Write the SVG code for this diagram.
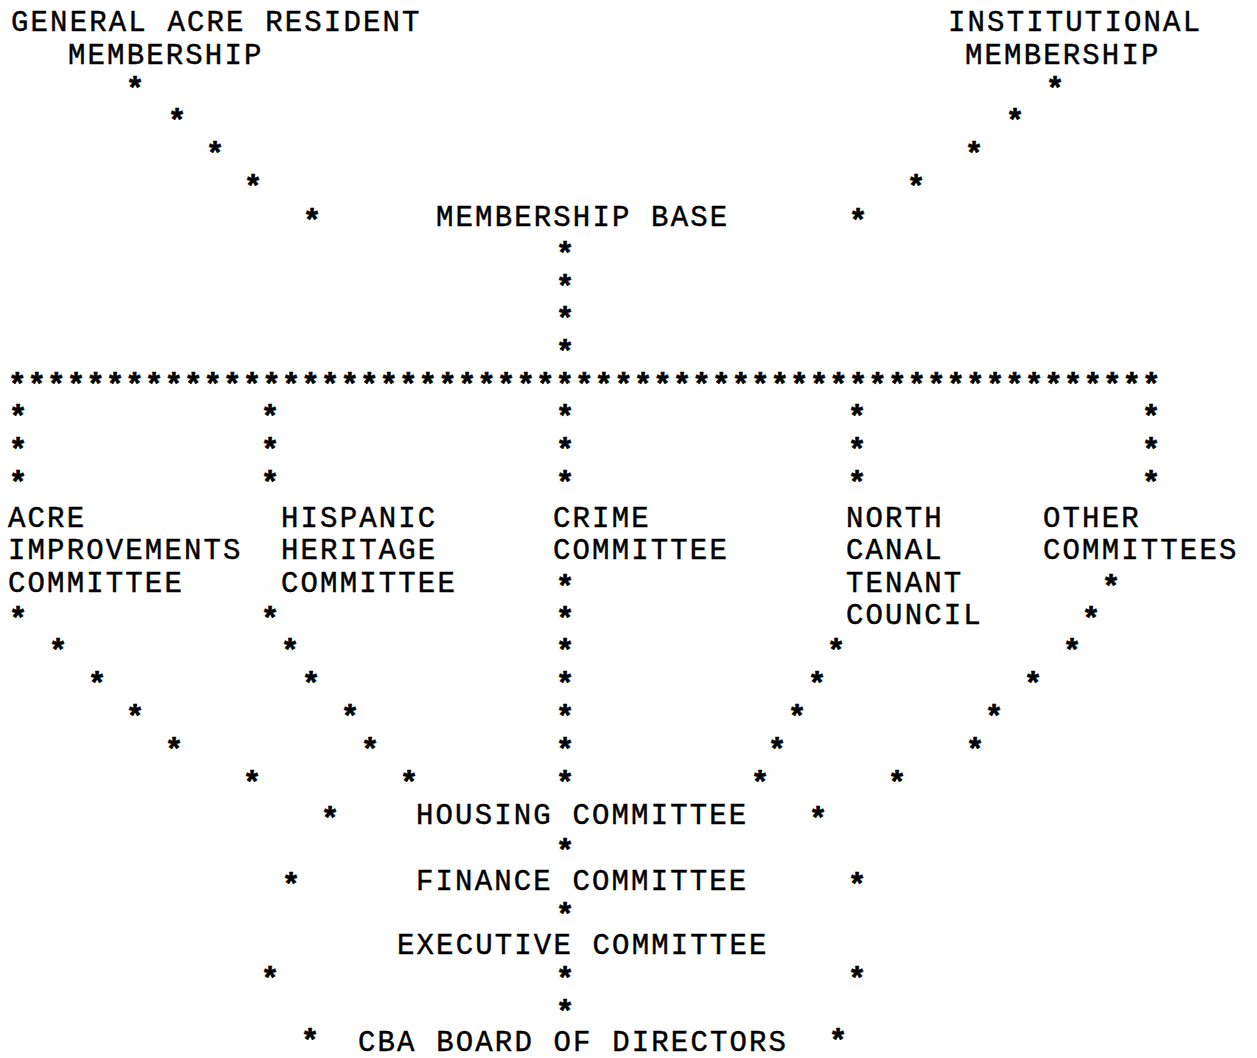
<svg xmlns="http://www.w3.org/2000/svg" width="1257" height="1058" viewBox="0 0 1257 1058">
<style>
text{font-family:"Liberation Mono","DejaVu Sans Mono",monospace;fill:#000}
.t{font-size:29px;letter-spacing:2.15px;stroke:#000;stroke-width:0.45px}
.a{font-size:31px;font-weight:bold;text-anchor:middle;stroke:#000;stroke-width:0.6px}
.row{font-size:31px;font-weight:bold;letter-spacing:0.95px;stroke:#000;stroke-width:0.6px}
</style>
<rect width="1257" height="1058" fill="#fff"/>
<g id="general-acre"><text class="t" x="11" y="31">GENERAL ACRE RESIDENT</text><text class="t" x="68" y="64">MEMBERSHIP</text></g>
<g id="institutional"><text class="t" x="948" y="31">INSTITUTIONAL</text><text class="t" x="965" y="64">MEMBERSHIP</text></g>
<g id="membership-base"><text class="t" x="436" y="226">MEMBERSHIP BASE</text></g>
<g id="acre-improvements"><text class="t" x="8" y="527">ACRE</text><text class="t" x="8" y="559">IMPROVEMENTS</text><text class="t" x="8" y="592">COMMITTEE</text></g>
<g id="hispanic-heritage"><text class="t" x="281" y="527">HISPANIC</text><text class="t" x="281" y="559">HERITAGE</text><text class="t" x="281" y="592">COMMITTEE</text></g>
<g id="crime"><text class="t" x="553" y="527">CRIME</text><text class="t" x="553" y="559">COMMITTEE</text></g>
<g id="north-canal"><text class="t" x="846" y="527">NORTH</text><text class="t" x="846" y="559">CANAL</text><text class="t" x="846" y="592">TENANT</text><text class="t" x="846" y="624">COUNCIL</text></g>
<g id="other"><text class="t" x="1043" y="527">OTHER</text><text class="t" x="1043" y="559">COMMITTEES</text></g>
<g id="housing"><text class="t" x="416" y="824">HOUSING COMMITTEE</text></g>
<g id="finance"><text class="t" x="416" y="890">FINANCE COMMITTEE</text></g>
<g id="executive"><text class="t" x="397" y="954">EXECUTIVE COMMITTEE</text></g>
<g id="cba-board"><text class="t" x="358" y="1051">CBA BOARD OF DIRECTORS</text></g>
<g id="connectors">
<text class="a" x="135" y="99">*</text><text class="a" x="177" y="131">*</text><text class="a" x="215" y="164">*</text><text class="a" x="253" y="197">*</text><text class="a" x="312" y="231">*</text>
<text class="a" x="1055" y="99">*</text><text class="a" x="1015" y="131">*</text><text class="a" x="974" y="164">*</text><text class="a" x="916" y="197">*</text><text class="a" x="858" y="231">*</text>
<text class="a" x="565" y="264">*</text><text class="a" x="565" y="297">*</text><text class="a" x="565" y="329">*</text><text class="a" x="565" y="362">*</text>
<text class="row" x="8" y="395">***********************************************************</text>
<text class="a" x="18" y="427">*</text><text class="a" x="270" y="427">*</text><text class="a" x="565" y="427">*</text><text class="a" x="857" y="427">*</text><text class="a" x="1151" y="427">*</text>
<text class="a" x="18" y="460">*</text><text class="a" x="270" y="460">*</text><text class="a" x="565" y="460">*</text><text class="a" x="857" y="460">*</text><text class="a" x="1151" y="460">*</text>
<text class="a" x="18" y="493">*</text><text class="a" x="270" y="493">*</text><text class="a" x="565" y="493">*</text><text class="a" x="857" y="493">*</text><text class="a" x="1151" y="493">*</text>
<text class="a" x="565" y="597">*</text><text class="a" x="1111" y="597">*</text>
<text class="a" x="18" y="629">*</text><text class="a" x="270" y="629">*</text><text class="a" x="565" y="629">*</text><text class="a" x="1091" y="629">*</text>
<text class="a" x="58" y="661">*</text><text class="a" x="290" y="661">*</text><text class="a" x="565" y="661">*</text><text class="a" x="836" y="661">*</text><text class="a" x="1072" y="661">*</text>
<text class="a" x="97" y="694">*</text><text class="a" x="311" y="694">*</text><text class="a" x="565" y="694">*</text><text class="a" x="817" y="694">*</text><text class="a" x="1033" y="694">*</text>
<text class="a" x="135" y="727">*</text><text class="a" x="350" y="727">*</text><text class="a" x="565" y="727">*</text><text class="a" x="797" y="727">*</text><text class="a" x="994" y="727">*</text>
<text class="a" x="174" y="760">*</text><text class="a" x="370" y="760">*</text><text class="a" x="565" y="760">*</text><text class="a" x="777" y="760">*</text><text class="a" x="975" y="760">*</text>
<text class="a" x="252" y="793">*</text><text class="a" x="409" y="793">*</text><text class="a" x="565" y="793">*</text><text class="a" x="760" y="793">*</text><text class="a" x="897" y="793">*</text>
<text class="a" x="330" y="829">*</text><text class="a" x="818" y="829">*</text>
<text class="a" x="565" y="861">*</text>
<text class="a" x="291" y="895">*</text><text class="a" x="857" y="895">*</text>
<text class="a" x="565" y="925">*</text>
<text class="a" x="270" y="989">*</text><text class="a" x="565" y="989">*</text><text class="a" x="857" y="989">*</text>
<text class="a" x="565" y="1022">*</text>
<text class="a" x="310" y="1051">*</text><text class="a" x="838" y="1051">*</text>
</g>
</svg>
